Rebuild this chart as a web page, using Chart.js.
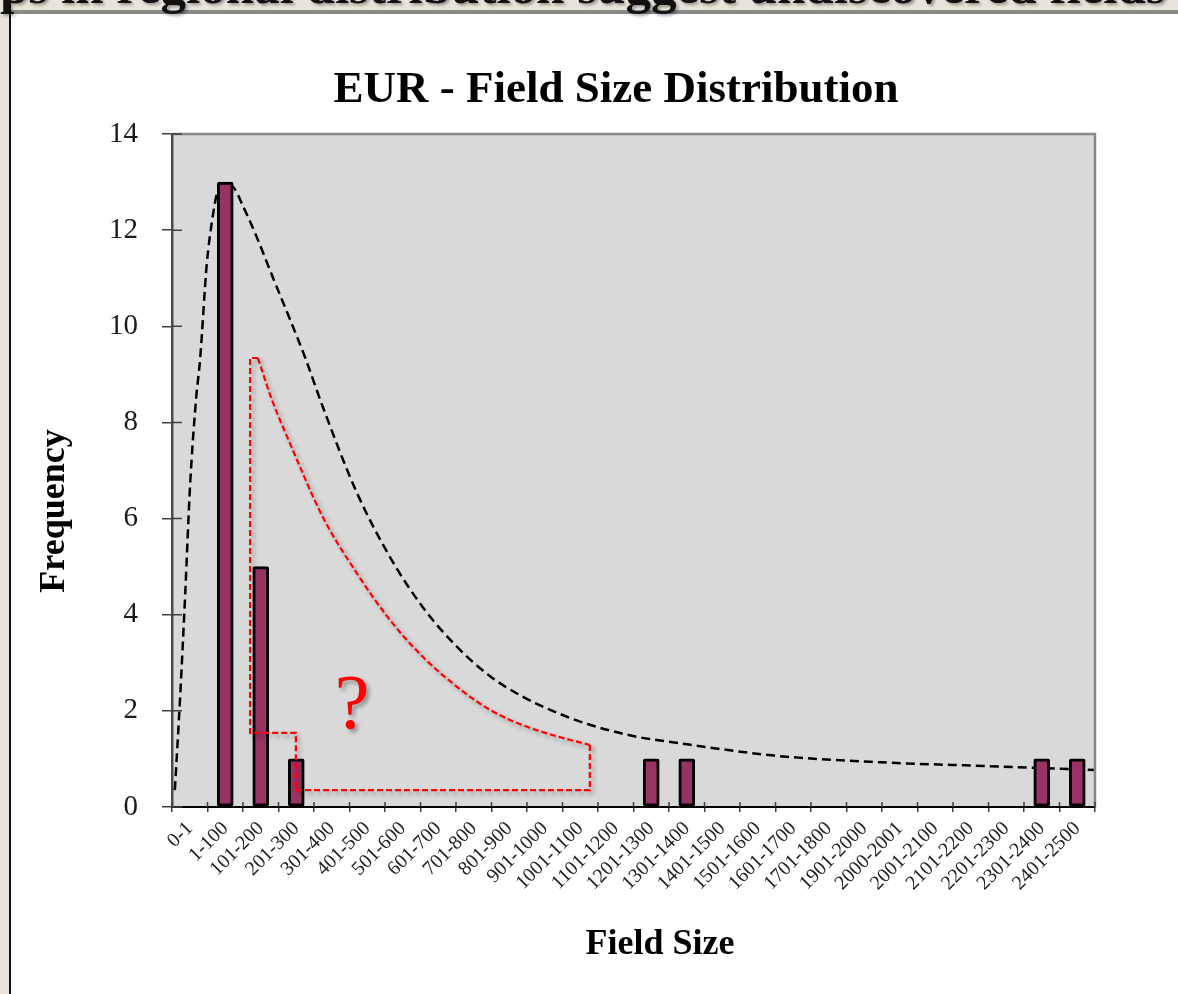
<!DOCTYPE html>
<html>
<head>
<meta charset="utf-8">
<title>EUR - Field Size Distribution</title>
<script src="https://cdn.jsdelivr.net/npm/chart.js@4.4.1/dist/chart.umd.min.js"></script>
<style>
  html, body { margin: 0; padding: 0; background: #ffffff; }
  body { width: 1178px; height: 994px; position: relative; overflow: hidden; }
  #band-left { position: absolute; left: 0; top: 0; width: 9px; height: 994px; background: #e8e4db; }
  #rule-left { position: absolute; left: 9px; top: 0; width: 2px; height: 994px; background: #111; }
  #band-top { position: absolute; left: 0; top: 0; width: 1178px; height: 10px; background: #e8e4db; border-bottom: 4px solid #8a8a8a; }
  #slide-heading {
    position: absolute; left: 0; top: -39px; white-space: nowrap;
    font: bold 51px "Liberation Serif", serif; line-height: 51px; color: #111;
    text-shadow: 2px 2px 3px rgba(0,0,0,0.35);
  }
  #chart { position: absolute; left: 0; top: 0; }
</style>
</head>
<body>
<div id="band-top"></div>
<div id="band-left"></div>
<div id="slide-heading">ps in regional distribution suggest undiscovered fields</div>
<div id="rule-left"></div>
<canvas id="chart" width="1178" height="994"></canvas>
<script>
// Field size bins and observed frequencies
const categories = ['0-1','1-100','101-200','201-300','301-400','401-500','501-600','601-700',
  '701-800','801-900','901-1000','1001-1100','1101-1200','1201-1300','1301-1400','1401-1500',
  '1501-1600','1601-1700','1701-1800','1901-2000','2000-2001','2001-2100','2101-2200',
  '2201-2300','2301-2400','2401-2500'];
const frequency = [0, 13, 5, 1, 0, 0, 0, 0, 0, 0, 0, 0, 0, 1, 1, 0, 0, 0, 0, 0, 0, 0, 0, 0, 1, 1];
const yTicks = [0, 2, 4, 6, 8, 10, 12, 14];

// Expected distribution curve (x in bin units from the left edge, y in frequency)
const fitX = [0.08, 0.23, 0.37, 0.51, 0.68, 0.79, 0.98, 1.13, 1.27, 1.49, 1.72, 2.0, 2.39, 2.85,
  3.32, 3.75, 4.26, 5.2, 6.14, 7.07, 8.03, 8.96, 9.89, 10.85, 11.77, 13.1, 13.9, 16.96, 19.97, 23.0, 26.0];
const fitY = [0.35, 2.3, 4.4, 6.7, 8.5, 9.3, 11.3, 12.2, 12.77, 12.95, 12.9, 12.5, 11.85, 11.0,
  10.15, 9.35, 8.3, 6.55, 5.2, 4.15, 3.33, 2.72, 2.29, 1.96, 1.71, 1.46, 1.37, 1.07, 0.93, 0.85, 0.77];

// Undiscovered-fields gap: straight edges, then the upper curved edge
const gapEdgeX = [11.77, 11.77, 3.49, 3.49, 2.2, 2.2, 2.42];
const gapEdgeY = [1.29, 0.35, 0.35, 1.54, 1.54, 9.34, 9.34];
const gapCurveX = [2.42, 2.55, 2.8, 3.32, 4.25, 5.2, 6.14, 7.07, 8.03, 8.96, 9.89, 10.85, 11.77];
const gapCurveY = [9.34, 9.05, 8.5, 7.57, 6.03, 4.87, 3.89, 3.12, 2.5, 2.02, 1.7, 1.47, 1.29];

// Annotation mark placed in the gap
const gapMark = { text: '?', x: 5.07, y: 1.64 };

const pts = (xs, ys) => xs.map((x, i) => ({ x: x, y: ys[i] }));

const SERIF = '"Liberation Serif", "Times New Roman", serif';

const framePlugin = {
  id: 'frame',
  beforeDraw(chart) {
    const { ctx, chartArea: a } = chart;
    ctx.save();
    ctx.fillStyle = '#d9d9d9';
    ctx.fillRect(a.left, a.top, a.right - a.left, a.bottom - a.top);
    ctx.restore();
  },
  beforeDatasetDraw(chart, args) {
    const ds = chart.data.datasets[args.index];
    if (ds.shadow) {
      const ctx = chart.ctx;
      ctx.save();
      ctx.shadowColor = 'rgba(0,0,0,0.35)';
      ctx.shadowBlur = 4;
      ctx.shadowOffsetX = 3;
      ctx.shadowOffsetY = 3;
    }
  },
  afterDatasetDraw(chart, args) {
    const ds = chart.data.datasets[args.index];
    if (ds.shadow) chart.ctx.restore();
  },
  afterDatasetsDraw(chart) {
    const { ctx, chartArea: a, scales } = chart;
    ctx.save();
    // top and right frame
    ctx.strokeStyle = '#888888';
    ctx.lineWidth = 2.5;
    ctx.beginPath();
    ctx.moveTo(a.left, a.top);
    ctx.lineTo(a.right, a.top);
    ctx.lineTo(a.right, a.bottom);
    ctx.stroke();
    // inner halves of the tick marks
    ctx.strokeStyle = '#404040';
    ctx.lineWidth = 1.5;
    ctx.beginPath();
    scales.y.ticks.forEach(t => {
      const y = scales.y.getPixelForValue(t.value);
      ctx.moveTo(a.left, y);
      ctx.lineTo(a.left + 10, y);
    });
    for (let i = 0; i <= categories.length; i++) {
      const x = scales.xc.getPixelForValue(i);
      ctx.moveTo(x, a.bottom);
      ctx.lineTo(x, a.bottom - 5);
    }
    ctx.stroke();
    // question mark in the gap
    ctx.font = '78px ' + SERIF;
    ctx.fillStyle = '#ff0000';
    ctx.textAlign = 'center';
    ctx.textBaseline = 'alphabetic';
    ctx.shadowColor = 'rgba(0,0,0,0.35)';
    ctx.shadowBlur = 4;
    ctx.shadowOffsetX = 3;
    ctx.shadowOffsetY = 3;
    ctx.fillText(gapMark.text, scales.xc.getPixelForValue(gapMark.x), scales.y.getPixelForValue(gapMark.y));
    ctx.restore();
  },
  afterDraw(chart) {
    const { ctx } = chart;
    ctx.save();
    ctx.fillStyle = '#000000';
    ctx.textBaseline = 'alphabetic';
    ctx.textAlign = 'center';
    ctx.font = 'bold 45px ' + SERIF;
    ctx.fillText('EUR - Field Size Distribution', 616, 102);
    ctx.font = 'bold 36px ' + SERIF;
    ctx.fillText('Field Size', 660, 954);
    ctx.translate(64, 511);
    ctx.rotate(-Math.PI / 2);
    ctx.fillText('Frequency', 0, 0);
    ctx.restore();
  }
};

new Chart(document.getElementById('chart'), {
  type: 'bar',
  data: {
    labels: categories,
    datasets: [
      {
        label: 'Frequency',
        data: frequency,
        backgroundColor: '#993366',
        borderColor: '#000000',
        borderWidth: 3,
        borderRadius: 2,
        borderSkipped: false,
        grouped: false,
        barThickness: 16,
        order: 0
      },
      {
        type: 'line',
        label: 'Expected',
        xAxisID: 'xc',
        data: pts(fitX, fitY),
        borderColor: '#000000',
        borderWidth: 2.5,
        borderDash: [9, 5],
        pointRadius: 0,
        fill: false,
        cubicInterpolationMode: 'monotone',
        order: 2
      },
      {
        type: 'line',
        label: 'Gap edges',
        xAxisID: 'xc',
        data: pts(gapEdgeX, gapEdgeY),
        borderColor: '#ff0000',
        borderWidth: 2.2,
        borderDash: [6, 3],
        pointRadius: 0,
        fill: false,
        tension: 0,
        shadow: true,
        order: -1
      },
      {
        type: 'line',
        label: 'Gap curve',
        xAxisID: 'xc',
        data: pts(gapCurveX, gapCurveY),
        borderColor: '#ff0000',
        borderWidth: 2.2,
        borderDash: [6, 3],
        pointRadius: 0,
        fill: false,
        cubicInterpolationMode: 'monotone',
        shadow: true,
        order: -1
      }
    ]
  },
  options: {
    responsive: false,
    animation: false,
    devicePixelRatio: 1,
    layout: { padding: { left: 52, top: 134, right: 83, bottom: 0 } },
    plugins: { legend: { display: false }, tooltip: { enabled: false }, title: { display: false } },
    scales: {
      x: {
        type: 'category',
        offset: true,
        grid: { offset: true, drawOnChartArea: false, drawTicks: true, tickLength: 5, color: '#404040', lineWidth: 1.5 },
        border: { display: true, color: '#000000', width: 2 },
        ticks: {
          autoSkip: false, minRotation: 45, maxRotation: 45, padding: 5,
          color: '#222222', font: { family: SERIF, size: 20 }
        },
        afterFit(scale) { scale.height = 187; }
      },
      xc: {
        type: 'linear',
        display: false,
        offset: false,
        grid: { offset: false },
        min: 0,
        max: categories.length
      },
      y: {
        min: 0,
        max: 14,
        afterBuildTicks(scale) { scale.ticks = yTicks.map(v => ({ value: v })); },
        grid: { drawOnChartArea: false, drawTicks: true, tickLength: 10, color: '#404040', lineWidth: 1.5 },
        border: { display: true, color: '#4a4a4a', width: 2.5 },
        ticks: { padding: 24, color: '#1a1a1a', font: { family: SERIF, size: 29 } },
        afterFit(scale) { scale.width = 120; }
      }
    }
  },
  plugins: [framePlugin]
});
</script>
</body>
</html>
